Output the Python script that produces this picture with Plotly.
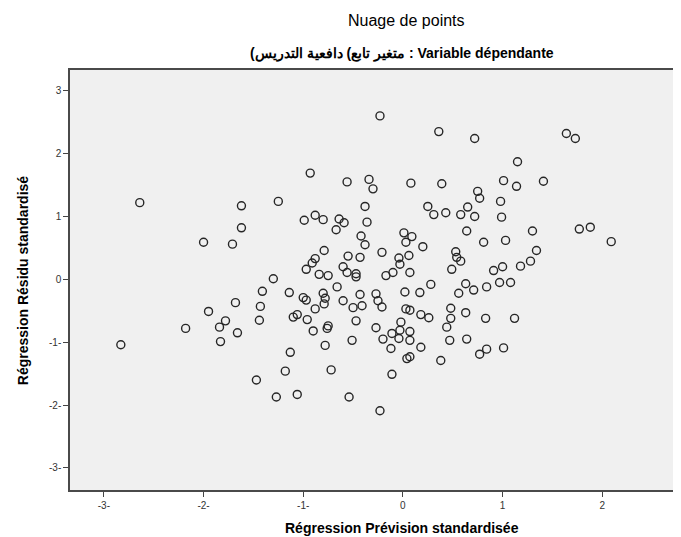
import plotly.graph_objects as go

# Standardized predicted values (x) and standardized residuals (y)
x_pred = [
    -2.64, -1.62, -1.62, -2.00, -1.71, -0.23, 0.36, -0.93, -0.56, -0.34,
    -0.30, 0.08, 0.39, -1.25, -0.99, -0.88, -0.80, -0.64, -0.59, -0.67,
    -0.38, -0.36, -0.42, -0.38, 0.25, 0.31, 0.43, 0.58, 0.65, 0.64,
    0.01, 0.09, 0.03, 0.20, -0.21, -0.79, -0.88, -0.91, -0.97, -0.55,
    -0.43, -0.60, -0.56, -0.47, -0.47, -0.84, -0.75, -1.30, -0.04, -0.03,
    0.06, -0.10, -0.17, 0.07, 0.53, 0.54, 0.58, 0.49, 0.72, 1.64,
    1.73, 1.15, 1.01, 1.14, 1.41, 0.75, 0.77, 0.98, 0.72, 0.99,
    0.81, 1.03, 1.30, 1.77, 1.88, 2.09, 1.34, 1.28, 1.18, 1.00,
    0.91, 1.08, 0.97, 0.84, 0.71, 0.63, 0.56, 0.28, 0.17, 0.02,
    0.07, 0.03, 0.18, 0.26, 0.48, 0.48, 0.44, 0.63, 0.83, 1.12,
    0.07, 0.07, 0.47, 0.64, 0.18, 0.77, 0.84, 1.01, 0.38, 0.07,
    0.04, -0.02, -0.03, -0.04, -0.11, -0.20, -0.27, -0.12, -0.11, -0.23,
    -0.51, -0.47, -0.78, -0.75, -0.76, -0.90, -0.96, -1.06, -1.10, -0.88,
    -1.00, -0.97, -0.80, -0.78, -0.79, -0.66, -0.60, -0.50, -0.43, -0.41,
    -0.27, -0.25, -0.21, -1.14, -1.41, -1.43, -1.44, -1.13, -1.18, -0.72,
    -1.47, -1.27, -1.06, -0.54, -1.68, -1.78, -1.84, -1.83, -1.66, -2.18,
    -1.95, -2.83,
]
y_resid = [
    1.22, 1.17, 0.82, 0.59, 0.56, 2.60, 2.35, 1.69, 1.55, 1.59,
    1.44, 1.53, 1.52, 1.24, 0.94, 1.02, 0.95, 0.96, 0.90, 0.79,
    1.16, 0.91, 0.69, 0.55, 1.16, 1.03, 1.06, 1.03, 1.15, 0.77,
    0.74, 0.68, 0.59, 0.52, 0.43, 0.46, 0.33, 0.26, 0.16, 0.37,
    0.35, 0.20, 0.11, 0.09, 0.04, 0.08, 0.06, 0.01, 0.34, 0.24,
    0.38, 0.11, 0.06, 0.11, 0.44, 0.35, 0.29, 0.16, 2.24, 2.32,
    2.24, 1.87, 1.57, 1.48, 1.56, 1.40, 1.29, 1.24, 1.00, 0.99,
    0.59, 0.62, 0.77, 0.80, 0.83, 0.60, 0.46, 0.29, 0.21, 0.20,
    0.14, -0.05, -0.05, -0.12, -0.17, -0.07, -0.22, -0.08, -0.21, -0.20,
    -0.49, -0.47, -0.56, -0.61, -0.46, -0.62, -0.76, -0.53, -0.62, -0.62,
    -0.83, -0.97, -0.97, -0.95, -1.08, -1.19, -1.11, -1.09, -1.29, -1.23,
    -1.26, -0.68, -0.81, -0.94, -0.86, -0.95, -0.77, -1.10, -1.51, -2.09,
    -0.97, -0.66, -1.05, -0.74, -0.78, -0.82, -0.64, -0.56, -0.60, -0.47,
    -0.29, -0.33, -0.22, -0.30, -0.39, -0.12, -0.34, -0.45, -0.24, -0.42,
    -0.23, -0.34, -0.44, -0.21, -0.19, -0.43, -0.65, -1.16, -1.46, -1.44,
    -1.60, -1.87, -1.83, -1.87, -0.37, -0.66, -0.76, -0.99, -0.85, -0.78,
    -0.51, -1.04,
]

x_ticks = [-3, -2, -1, 0, 1, 2]
x_ticktext = ["-3-", "-2-", "-1-", "0", "1", "2"]
y_ticks = [-3, -2, -1, 0, 1, 2, 3]
y_ticktext = ["-3-", "-2-", "-1-", "0", "1", "2", "3"]

title_text = "Nuage de points"
# visual order as in the reference: "(" + A + " (" + B + " : Variable dépendante"
sub_a = "دافعية التدريس"
sub_b = "متغير تابع"
subtitle_text = "(" + sub_a + "\u200e (" + sub_b + "\u200e : Variable dépendante"
x_title = "Régression Prévision standardisée"
y_title = "Régression Résidu standardisé"

FONT = "Liberation Sans, Arial, sans-serif"

fig = go.Figure()
fig.add_trace(go.Scatter(
    x=x_pred, y=y_resid, mode="markers",
    marker=dict(symbol="circle-open", size=8, color="#262626",
                line=dict(width=1.4, color="#262626")),
    showlegend=False, hoverinfo="x+y",
))

axis_common = dict(
    showline=True, mirror=True, linecolor="#4a4a4a", linewidth=1.5,
    ticks="outside", ticklen=5, tickcolor="#444", tickwidth=1,
    showgrid=False, zeroline=False,
    tickfont=dict(family=FONT, size=10, color="#333"),
)

fig.update_layout(
    width=681, height=537,
    margin=dict(l=62, r=9, t=62, b=55),
    paper_bgcolor="white",
    plot_bgcolor="#F0F0F0",
    font=dict(family=FONT, color="black"),
    xaxis=dict(range=[-3.34, 2.76], tickvals=x_ticks, ticktext=x_ticktext,
               **axis_common),
    yaxis=dict(range=[-3.35, 3.33], tickvals=y_ticks, ticktext=y_ticktext,
               **axis_common),
    annotations=[
        dict(text=title_text, xref="paper", yref="paper", x=0.554, y=1.119,
             xanchor="center", yanchor="middle", showarrow=False,
             font=dict(family=FONT, size=16, color="black")),
        dict(text="<b>" + subtitle_text + "</b>", xref="paper", yref="paper",
             x=0.546, y=1.040, xanchor="center", yanchor="middle",
             showarrow=False, font=dict(family=FONT, size=14, color="black")),
        dict(text="<b>" + x_title + "</b>", xref="paper", yref="paper",
             x=0.546, y=-0.090, xanchor="center", yanchor="middle",
             showarrow=False, font=dict(family=FONT, size=14, color="black")),
        dict(text="<b>" + y_title + "</b>", xref="paper", yref="paper",
             x=-0.077, y=0.5, xanchor="center", yanchor="middle",
             textangle=-90, showarrow=False,
             font=dict(family=FONT, size=14, color="black")),
    ],
)

fig.write_html("out.html")
